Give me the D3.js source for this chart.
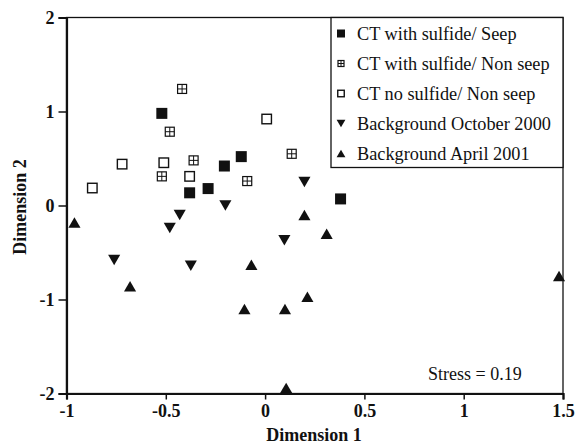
<!DOCTYPE html>
<html><head><meta charset="utf-8">
<script src="https://cdn.jsdelivr.net/npm/d3@7"></script>
<style>body{margin:0;background:#fff}svg{display:block}</style>
</head><body>
<svg id="c" width="586" height="444"></svg>
<script>
const seriesNames = ["CT with sulfide/ Seep","CT with sulfide/ Non seep","CT no sulfide/ Non seep","Background October 2000","Background April 2001"];
const seriesShapes = ["filled","hatched","open","down","up"];
const seepX = [-0.52,-0.38,-0.287,-0.205,-0.12,0.38];
const seepY = [0.98,0.135,0.18,0.42,0.52,0.07];
const nonSeepX = [-0.418,-0.48,-0.36,-0.52,-0.09,0.134];
const nonSeepY = [1.24,0.785,0.48,0.31,0.26,0.55];
const noSulfX = [-0.87,-0.72,-0.51,-0.38,0.008];
const noSulfY = [0.186,0.44,0.455,0.31,0.92];
const oct2000X = [-0.2,-0.43,-0.48,-0.76,-0.374,0.097,0.198];
const oct2000Y = [0.0,-0.1,-0.24,-0.58,-0.64,-0.37,0.25];
const apr2001X = [-0.96,-0.68,-0.069,-0.104,0.1,0.106,0.198,0.31,0.213,1.48];
const apr2001Y = [-0.18,-0.86,-0.63,-1.10,-1.10,-1.94,-0.10,-0.30,-0.97,-0.75];
const xTicks = [-1,-0.5,0,0.5,1,1.5];
const yTicks = [-2,-1,0,1,2];
const stressLabel = "Stress = 0.19";

const allX = [seepX,nonSeepX,noSulfX,oct2000X,apr2001X];
const allY = [seepY,nonSeepY,noSulfY,oct2000Y,apr2001Y];

const svg = d3.select("#c");
const L=66.5,R=563,T=17.5,B=393.5;
const x = d3.scaleLinear().domain([-1,1.5]).range([L,R]);
const y = d3.scaleLinear().domain([-2,2]).range([B,T]);
const serif = "'Liberation Serif','Times New Roman',serif";
const fmt = d => String(d); // plain hyphen-minus

// frame
svg.append("rect").attr("x",L).attr("y",T).attr("width",R-L).attr("height",B-T)
  .attr("fill","none").attr("stroke","#111").attr("stroke-width",1.3);

const xa = svg.append("g").attr("transform",`translate(0,${B})`)
  .call(d3.axisBottom(x).tickValues(xTicks).tickSize(6).tickFormat(fmt));
const ya = svg.append("g").attr("transform",`translate(${L},0)`)
  .call(d3.axisLeft(y).tickValues(yTicks).tickSize(8).tickFormat(fmt));
[xa,ya].forEach(a=>{
  a.select(".domain").attr("stroke","#111").attr("stroke-width",2.2);
  a.selectAll(".tick line").attr("stroke","#111").attr("stroke-width",1.5);
  a.selectAll("text").attr("font-family",serif).attr("font-weight","bold").attr("font-size",18).attr("fill","#111");
});
xa.selectAll("text").attr("y",23).attr("dy",0);
ya.selectAll("text").attr("x",-12).attr("dy","0.34em");

svg.append("text").attr("x",314).attr("y",441).attr("text-anchor","middle")
  .attr("font-family",serif).attr("font-weight","bold").attr("font-size",18).attr("fill","#111").text("Dimension 1");
svg.append("text").attr("transform",`translate(26,207) rotate(-90)`).attr("text-anchor","middle")
  .attr("font-family",serif).attr("font-weight","bold").attr("font-size",18).attr("fill","#111").text("Dimension 2");

function drawMarker(g, shape, cx, cy, s){
  if(shape==="filled"){
    g.append("rect").attr("x",cx-s/2).attr("y",cy-s/2).attr("width",s).attr("height",s).attr("fill","#111");
  } else if(shape==="open"){
    const a=s-1.5;
    g.append("rect").attr("x",cx-a/2).attr("y",cy-a/2).attr("width",a).attr("height",a).attr("fill","#fff").attr("stroke","#111").attr("stroke-width",1.4);
  } else if(shape==="hatched"){
    const a=s-2;
    g.append("rect").attr("x",cx-a/2).attr("y",cy-a/2).attr("width",a).attr("height",a).attr("fill","#fff").attr("stroke","#111").attr("stroke-width",1.2);
    g.append("line").attr("x1",cx).attr("x2",cx).attr("y1",cy-a/2).attr("y2",cy+a/2).attr("stroke","#111").attr("stroke-width",1);
    g.append("line").attr("y1",cy).attr("y2",cy).attr("x1",cx-a/2).attr("x2",cx+a/2).attr("stroke","#111").attr("stroke-width",1);
  } else {
    const w=s*1.1, h=s*0.95;
    const pts = shape==="down"
      ? [[cx-w/2,cy-h/2],[cx+w/2,cy-h/2],[cx,cy+h/2]]
      : [[cx-w/2,cy+h/2],[cx+w/2,cy+h/2],[cx,cy-h/2]];
    g.append("path").attr("d",d3.line()(pts)+"Z").attr("fill","#111");
  }
}

const pg = svg.append("g");
allX.forEach((xs,i)=>{
  xs.forEach((v,j)=>drawMarker(pg, seriesShapes[i], x(v), y(allY[i][j]), 11));
});

// legend
const lg = svg.append("g");
lg.append("rect").attr("x",331).attr("y",T).attr("width",R-331).attr("height",150)
  .attr("fill","#fff").attr("stroke","#111").attr("stroke-width",1.3);
seriesNames.forEach((n,i)=>{
  const cy = 33.5 + i*30;
  drawMarker(lg, seriesShapes[i], 341, cy, 8);
  lg.append("text").attr("x",357).attr("y",cy).attr("dy","0.35em")
    .attr("font-family",serif).attr("font-size",18.3).attr("fill","#111").text(n);
});

svg.append("text").attr("x",428).attr("y",380).attr("font-family",serif).attr("font-size",18).attr("fill","#111").text(stressLabel);
</script>
</body></html>
